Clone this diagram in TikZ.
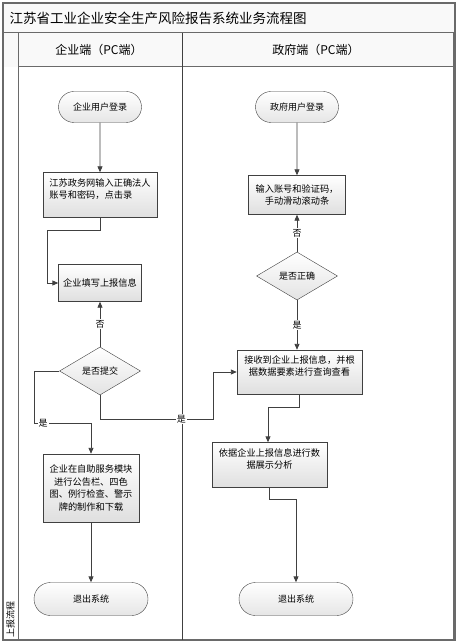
\documentclass[tikz,border=0pt]{standalone}
\usepackage{fontspec}
\setmainfont{Noto Sans CJK SC}
\usepackage{tikz}
\usetikzlibrary{shapes.geometric,shapes.misc,arrows.meta}
\usepackage{xcolor}
\definecolor{linegray}{HTML}{404040}
\definecolor{framegray}{HTML}{6A6A6A}

\tikzset{
	startstop/.style={rounded rectangle, draw=linegray, top color=white, bottom color=gray!20, font=\fontsize{9}{12}\selectfont, minimum height=31pt, inner sep=0pt},
	procbox/.style={rectangle, draw=linegray, top color=white, bottom color=gray!25, font=\fontsize{9.2}{12.5}\selectfont, inner xsep=2pt, inner ysep=0pt},
	decision/.style={diamond, aspect=1.67, draw=linegray, top color=white, bottom color=gray!22, font=\fontsize{9}{12}\selectfont, minimum width=81pt, minimum height=48pt, inner sep=0pt},
	flow/.style={draw=linegray, line width=0.9pt, -{Triangle[length=6pt,width=5pt]}},
	lbl/.style={fill=white, inner sep=1pt, font=\fontsize{9}{11}\selectfont}
}

\begin{document}
\begin{tikzpicture}[x=1pt,y=-1pt]
		\useasboundingbox (0,0) rectangle (458,644);
		% lanes
		\fill[gray!5] (3,3) rectangle (455,67);
		\draw[framegray, line width=1.4pt] (3,3) rectangle (455,640);
		\draw[framegray, line width=1pt] (3,33) -- (455,33);
		\draw[framegray, line width=1pt] (18,33) -- (18,640);
		\draw[framegray, line width=1pt] (18,67) -- (453,67);
		\draw[framegray, line width=1pt] (453,33) -- (453,640);
		\draw[linegray, line width=1pt] (182,33) -- (182,640);
		\node[anchor=west, font=\fontsize{13.5}{15}\selectfont] (title) at (6,18) {江苏省工业企业安全生产风险报告系统业务流程图};
		\node[font=\fontsize{12}{14}\selectfont] (lanea) at (99,50) {企业端（PC端）};
		\node[font=\fontsize{12}{14}\selectfont] (laneb) at (316,50) {政府端（PC端）};
		\node[rotate=90, font=\fontsize{9}{11}\selectfont] (phase) at (10.5,619) {上报流程};

		% enterprise side
		\node[startstop, minimum width=83pt] (u1) at (100,107) {企业用户登录};
		\node[procbox, minimum width=114pt, minimum height=45pt, align=left] (b1) at (100,195) {江苏政务网输入正确法人\\账号和密码，点击录\\ \mbox{}};
		\node[procbox, minimum width=83pt, minimum height=37pt] (b3) at (100,283) {企业填写上报信息};
		\node[decision] (d1) at (100,371) {是否提交};
		\node[procbox, minimum width=96pt, minimum height=68pt, align=center] (b4) at (91,488) {企业在自助服务模块\\进行公告栏、四色\\图、例行检查、警示\\牌的制作和下载};
		\node[startstop, minimum width=114pt, minimum height=33pt] (e1) at (91,599) {退出系统};

		% government side
		\node[startstop, minimum width=83pt] (r1) at (297,107) {政府用户登录};
		\node[procbox, minimum width=97pt, minimum height=39pt, align=center] (r2) at (297,195) {输入账号和验证码，\\手动滑动滚动条};
		\node[decision] (rd) at (297,276) {是否正确};
		\node[procbox, minimum width=125pt, minimum height=44pt, align=center] (r3) at (299.5,372) {接收到企业上报信息，并根\\据数据要素进行查询查看\\ \mbox{}};
		\node[procbox, minimum width=115pt, minimum height=45pt, align=center] (r4) at (269.5,465) {依据企业上报信息进行数\\据展示分析\\ \mbox{}};
		\node[startstop, minimum width=114pt, minimum height=33pt] (e2) at (296,599) {退出系统};

		\coordinate (c1) at (47,230);
		\coordinate (c2) at (34,423);
		\coordinate (c3) at (213,419);
		\coordinate (c4) at (268,407);
		\coordinate (c5) at (296,499);

		\draw[flow] (u1) -- (b1);
		\draw[flow] (b1.south) |- (c1) |- (b3.west);
		\draw[flow] (d1.north) -- node[lbl]{否} (b3.south);
		\draw[flow] (d1.west) -| (c2) -| node[lbl, pos=0.08]{是} (b4.north);
		\draw[flow] (d1.south) |- node[lbl, pos=0.86]{是} (c3) |- (r3.west);
		\draw[flow] (b4) -- (e1);

		\draw[flow] (r1) -- (r2);
		\draw[flow] (rd.north) -- node[lbl]{否} (r2.south);
		\draw[flow] (rd.south) -- node[lbl]{是} (rd.south |- r3.north);
		\draw[flow] (r3.south) |- (c4) -- (c4 |- r4.north);
		\draw[flow] (r4.south) |- (c5) -- (e2.north);
\end{tikzpicture}
\end{document}
